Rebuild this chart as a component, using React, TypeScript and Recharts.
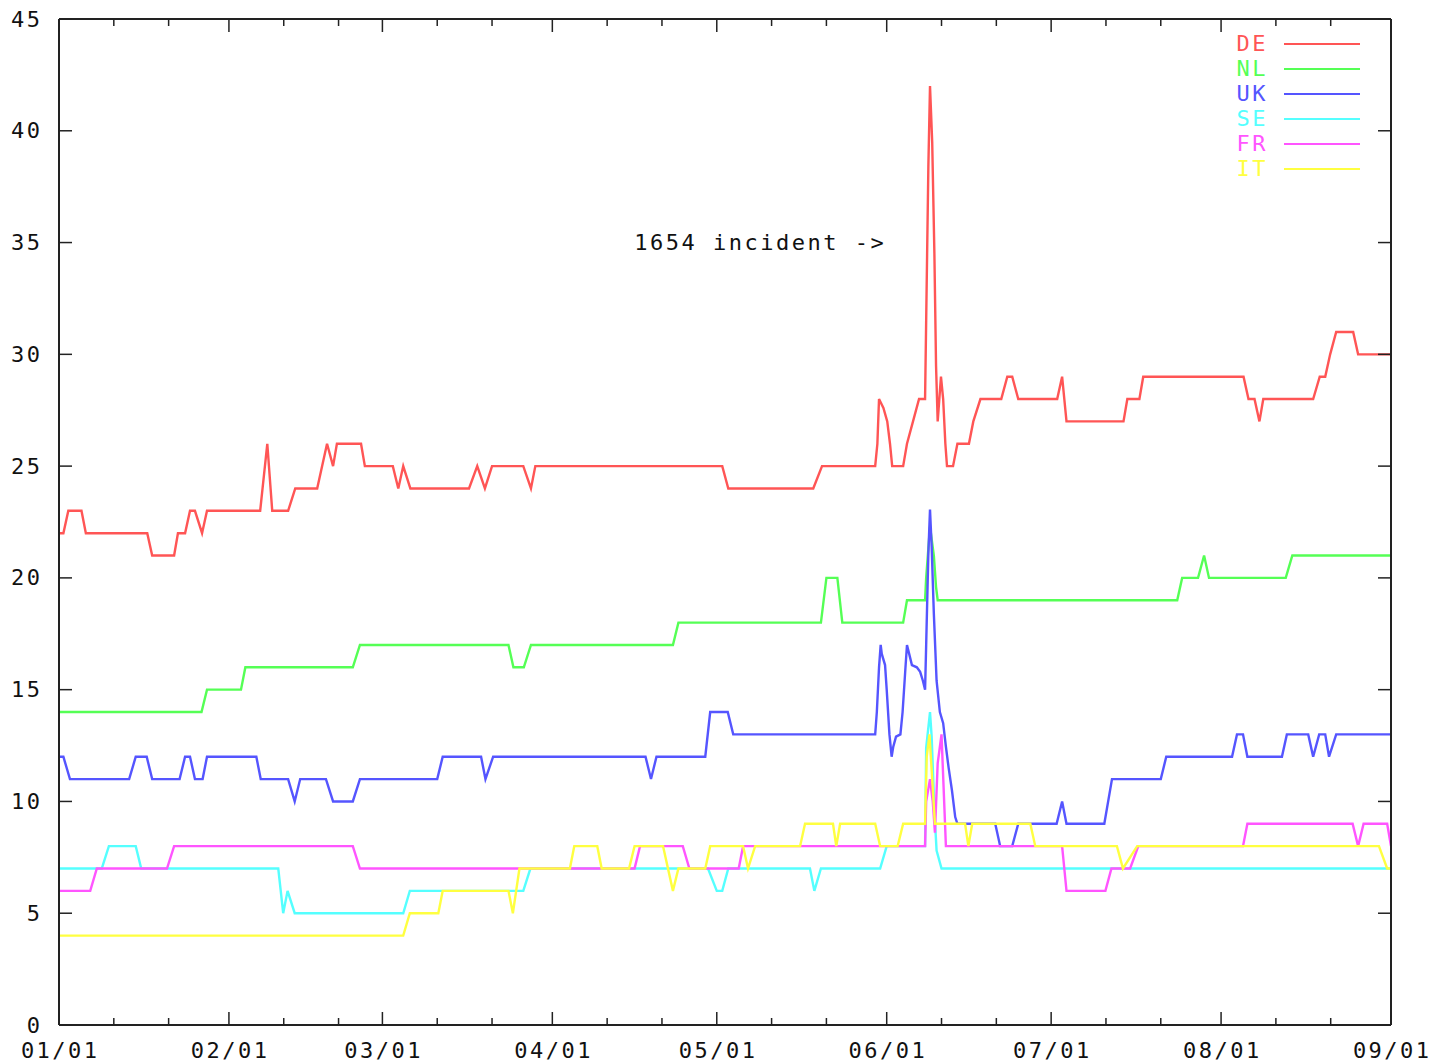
import React from 'react';
import { LineChart, Line, XAxis, YAxis, ReferenceDot } from 'recharts';

// x values are days since 01/01, y values are the plotted counts
const DE_POINTS: [number, number][] = [
  [0, 22], [0.8, 22], [1.7, 23], [4.1, 23], [4.9, 22], [16.1, 22], [17, 21], [21, 21], [21.7, 22], [23, 22],
  [23.9, 23], [24.8, 23], [26.1, 22], [27, 23], [36.7, 23], [38, 26], [38.9, 23], [41.8, 23], [43.1, 24],
  [47.1, 24], [48.9, 26], [50, 25], [50.7, 26], [55.1, 26], [55.8, 25], [60.9, 25], [61.9, 24], [62.8, 25],
  [64.1, 24], [74.8, 24], [76.3, 25], [77.7, 24], [79, 25], [84.7, 25], [86.1, 24], [86.9, 25], [121, 25],
  [122.1, 24], [137.6, 24], [139.2, 25], [148.9, 25], [149.3, 26], [149.6, 28], [150.4, 27.6], [151.1, 27],
  [151.6, 26], [152, 25], [154, 25], [154.7, 26], [155.8, 27], [156.9, 28], [158, 28], [158.2, 31.5],
  [158.6, 38.4], [158.9, 42], [159.3, 39.5], [159.7, 34.5], [160, 29.5], [160.3, 27], [160.6, 28], [160.9, 29],
  [161.3, 28], [161.7, 26], [162, 25], [163.1, 25], [163.9, 26], [166, 26], [166.8, 27], [168.1, 28],
  [171.9, 28], [173, 29], [173.9, 29], [175, 28], [182.1, 28], [183, 29], [183.8, 27], [194.2, 27], [194.9, 28],
  [197.1, 28], [197.8, 29], [216.1, 29], [217, 28], [218.1, 28], [219, 27], [219.7, 28], [228.8, 28], [230, 29],
  [231, 29], [231.9, 30], [233, 31], [236.1, 31], [237, 30], [243, 30],
];

const NL_POINTS: [number, number][] = [
  [0, 14], [26, 14], [27, 15], [33.2, 15], [34, 16], [53.6, 16], [54.9, 17], [82, 17], [82.9, 16], [84.8, 16],
  [86.1, 17], [112, 17], [113, 18], [139, 18], [140, 20], [142, 20], [142.9, 18], [154, 18], [154.7, 19],
  [158, 19], [158.2, 20], [158.9, 22.3], [159.6, 21], [160, 19.6], [160.3, 19], [204, 19], [204.9, 20],
  [207.8, 20], [208.9, 21], [209.8, 20], [223.8, 20], [225, 21], [243, 21],
];

const UK_POINTS: [number, number][] = [
  [0, 12], [0.8, 12], [2, 11], [12.8, 11], [14, 12], [16, 12], [17, 11], [22, 11], [23, 12], [23.9, 12],
  [24.8, 11], [26.2, 11], [27, 12], [36, 12], [36.8, 11], [41.8, 11], [43, 10], [44, 11], [48.7, 11], [50, 10],
  [53.6, 10], [54.9, 11], [69, 11], [70, 12], [77, 12], [77.8, 11], [79.2, 12], [107, 12], [108, 11], [109, 12],
  [117.9, 12], [118.8, 14], [122, 14], [123, 13], [148.9, 13], [149.2, 14], [149.6, 16], [149.9, 17],
  [150.1, 16.6], [150.7, 16.1], [151, 15], [151.5, 13], [151.9, 12], [152.2, 12.45], [152.7, 12.9],
  [153.5, 13], [153.9, 14], [154.4, 15.9], [154.7, 17], [155.1, 16.6], [155.6, 16.1], [156.5, 16],
  [157.1, 15.8], [157.6, 15.4], [158, 15], [158.2, 17], [158.6, 21.1], [158.9, 23.06], [159.2, 21.4],
  [159.6, 18.4], [160.1, 15.4], [160.7, 14], [161.3, 13.5], [161.8, 12.45], [162.3, 11.5], [162.9, 10.5],
  [163.5, 9.3], [163.9, 9], [170.8, 9], [171.7, 8], [173.9, 8], [175, 9], [182, 9], [183, 10], [183.8, 9],
  [190.7, 9], [192.1, 11], [201, 11], [202, 12], [214, 12], [214.9, 13], [216, 13], [216.8, 12], [223.1, 12],
  [224, 13], [227.9, 13], [228.8, 12], [229.9, 13], [231, 13], [231.7, 12], [233, 13], [243, 13],
];

const SE_POINTS: [number, number][] = [
  [0, 7], [7.8, 7], [9.1, 8], [14, 8], [15, 7], [40, 7], [40.9, 5], [41.7, 6], [43, 5], [62.8, 5], [64, 6],
  [84.7, 6], [86, 7], [118.4, 7], [120, 6], [121, 6], [122.1, 7], [137, 7], [137.8, 6], [139, 7], [149.8, 7],
  [151, 8], [158, 8], [158.2, 12.4], [158.9, 14], [159.2, 12.9], [159.7, 9.6], [160.1, 7.8], [161, 7], [243, 7],
];

const FR_POINTS: [number, number][] = [
  [0, 6], [5.7, 6], [6.9, 7], [19.7, 7], [21, 8], [53.6, 8], [54.9, 7], [105, 7], [106, 8], [113.8, 8],
  [115, 7], [124, 7], [124.8, 8], [158, 8], [158.2, 10], [158.9, 11], [159.4, 10], [159.8, 8.6], [160.3, 11.7],
  [161, 13], [161.8, 8], [183, 8], [183.8, 6], [190.9, 6], [192, 7], [195.4, 7], [196.9, 8], [216, 8],
  [216.8, 9], [236, 9], [237, 8], [238, 9], [242.3, 9], [243, 8],
];

const IT_POINTS: [number, number][] = [
  [0, 4], [62.8, 4], [64, 5], [69.2, 5], [70, 6], [82, 6], [82.8, 5], [84, 7], [93.2, 7], [94, 8], [98.2, 8],
  [99, 7], [104, 7], [105, 8], [110.2, 8], [112, 6], [113, 7], [117.9, 7], [118.8, 8], [124.8, 8], [125.7, 7],
  [127, 8], [135.2, 8], [136.1, 9], [141.2, 9], [141.8, 8], [142.5, 9], [148.9, 9], [149.8, 8], [153, 8],
  [154, 9], [158, 9], [158.3, 12], [158.8, 13], [159.3, 11], [159.8, 9], [165.3, 9], [165.9, 8], [166.6, 9],
  [177.2, 9], [178.1, 8], [193, 8], [194.1, 7], [196.7, 8], [240.8, 8], [242.3, 7], [243, 7],
];

const SERIES_NAMES = ['DE', 'NL', 'UK', 'SE', 'FR', 'IT'];
const SERIES_COLORS = ['#ff5555', '#55ff55', '#5555ff', '#55ffff', '#ff55ff', '#ffff40'];
const SERIES_POINTS = [DE_POINTS, NL_POINTS, UK_POINTS, SE_POINTS, FR_POINTS, IT_POINTS];

const MONTH_TICKS = [0, 31, 59, 90, 120, 151, 181, 212, 243];
const MONTH_LABELS = ['01/01', '02/01', '03/01', '04/01', '05/01', '06/01', '07/01', '08/01', '09/01'];
const MINOR_TICKS = [10, 20, 41, 51, 69, 79, 100, 110, 130, 140, 161, 171, 191, 201, 222, 232];
const Y_TICKS = [0, 5, 10, 15, 20, 25, 30, 35, 40, 45];

const ANNOTATION = { text: '1654 incident ->', day: 127.7, value: 35 };

const FONT = '"DejaVu Sans Mono", "Liberation Mono", monospace';
const FS = 22;
const LS = 2.5;
const AXIS_COLOR = '#222';
const MAJOR = 13;
const MINOR = 7;

const ALL_X_TICKS = [...MONTH_TICKS, ...MINOR_TICKS].sort((a, b) => a - b);

const series = SERIES_NAMES.map((name, i) => ({
  name,
  color: SERIES_COLORS[i],
  rows: SERIES_POINTS[i].map(([d, v]) => ({ d, v })),
}));

const BottomTick = (props: any) => {
  const { x, y, payload } = props;
  const idx = MONTH_TICKS.indexOf(payload.value);
  const major = idx >= 0;
  return (
    <g>
      <line x1={x} x2={x} y1={y} y2={y - (major ? MAJOR : MINOR)} stroke={AXIS_COLOR} strokeWidth={1.5} />
      {major && (
        <text x={x + LS / 2} y={y + 33} textAnchor="middle" fontFamily={FONT} fontSize={FS} letterSpacing={LS} fill="#111">
          {MONTH_LABELS[idx]}
        </text>
      )}
    </g>
  );
};

const TopTick = (props: any) => {
  const { x, y, payload } = props;
  const major = MONTH_TICKS.indexOf(payload.value) >= 0;
  return <line x1={x} x2={x} y1={y} y2={y + (major ? MAJOR : MINOR)} stroke={AXIS_COLOR} strokeWidth={1.5} />;
};

const LeftTick = (props: any) => {
  const { x, y, payload } = props;
  return (
    <g>
      <line x1={x} x2={x + MAJOR} y1={y} y2={y} stroke={AXIS_COLOR} strokeWidth={1.5} />
      <text x={x - 19 + LS} y={y} textAnchor="end" dominantBaseline="central" fontFamily={FONT} fontSize={FS} letterSpacing={LS} fill="#111">
        {payload.value}
      </text>
    </g>
  );
};

const RightTick = (props: any) => {
  const { x, y } = props;
  return <line x1={x} x2={x - MAJOR} y1={y} y2={y} stroke={AXIS_COLOR} strokeWidth={1.5} />;
};

const AnnotationLabel = (p: any) => {
  const vb = p.viewBox || {};
  const cx = (vb.x ?? vb.cx ?? 0) + (vb.width ? vb.width / 2 : 0);
  const cy = (vb.y ?? vb.cy ?? 0) + (vb.height ? vb.height / 2 : 0);
  return (
    <text x={cx + LS / 2} y={cy} textAnchor="middle" dominantBaseline="central" fontFamily={FONT} fontSize={FS} letterSpacing={LS} fill="#111">
      {ANNOTATION.text}
    </text>
  );
};

export default function App() {
  return (
    <div style={{ position: 'absolute', left: 0, top: 0, width: 1434, height: 1063, background: '#fff' }}>
      <LineChart width={1434} height={1063} margin={{ top: 0, right: 0, bottom: 0, left: 0 }}>
        <XAxis
          xAxisId="b"
          dataKey="d"
          type="number"
          domain={[0, 243]}
          allowDataOverflow
          ticks={ALL_X_TICKS}
          interval={0}
          tickSize={0}
          tickMargin={0}
          height={38}
          tickLine={false}
          axisLine={{ stroke: AXIS_COLOR, strokeWidth: 2 }}
          tick={<BottomTick />}
        />
        <XAxis
          xAxisId="t"
          orientation="top"
          dataKey="d"
          type="number"
          domain={[0, 243]}
          allowDataOverflow
          ticks={ALL_X_TICKS}
          interval={0}
          tickSize={0}
          tickMargin={0}
          height={19}
          tickLine={false}
          axisLine={{ stroke: AXIS_COLOR, strokeWidth: 2 }}
          tick={<TopTick />}
        />
        <YAxis
          yAxisId="l"
          type="number"
          domain={[0, 45]}
          allowDataOverflow
          ticks={Y_TICKS}
          interval={0}
          tickSize={0}
          tickMargin={0}
          width={59}
          tickLine={false}
          axisLine={{ stroke: AXIS_COLOR, strokeWidth: 2 }}
          tick={<LeftTick />}
        />
        <YAxis
          yAxisId="r"
          orientation="right"
          type="number"
          domain={[0, 45]}
          allowDataOverflow
          ticks={Y_TICKS}
          interval={0}
          tickSize={0}
          tickMargin={0}
          width={43}
          tickLine={false}
          axisLine={{ stroke: AXIS_COLOR, strokeWidth: 2 }}
          tick={<RightTick />}
        />
        {series.map((s) => (
          <Line
            key={s.name}
            name={s.name}
            xAxisId="b"
            yAxisId="l"
            data={s.rows}
            dataKey="v"
            type="linear"
            stroke={s.color}
            strokeWidth={2.4}
            dot={false}
            activeDot={false}
            isAnimationActive={false}
          />
        ))}
        <ReferenceDot
          xAxisId="b"
          yAxisId="l"
          x={ANNOTATION.day}
          y={ANNOTATION.value}
          r={1}
          fill="#fff"
          fillOpacity={0}
          stroke="none"
          label={AnnotationLabel}
        />
      </LineChart>
      <div style={{ position: 'absolute', left: 1225, top: 31, width: 160 }}>
        {series.map((s) => (
          <div key={s.name} style={{ display: 'flex', alignItems: 'center', height: 25 }}>
            <span
              style={{
                width: 43,
                textAlign: 'right',
                color: s.color,
                fontFamily: FONT,
                fontSize: FS,
                letterSpacing: LS,
                lineHeight: '25px',
              }}
            >
              {s.name}
            </span>
            <span style={{ display: 'inline-block', marginLeft: 16, width: 76, height: 2, background: s.color }} />
          </div>
        ))}
      </div>
    </div>
  );
}
